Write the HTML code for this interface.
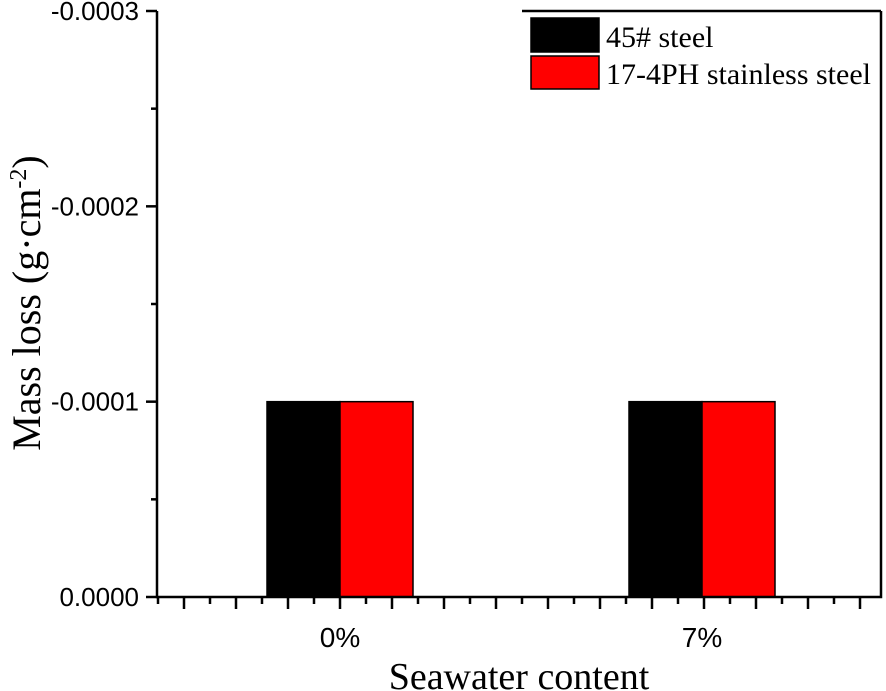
<!DOCTYPE html>
<html><head><meta charset="utf-8"><style>
html,body{margin:0;padding:0;background:#fff;width:886px;height:691px;overflow:hidden}
svg text{font-family:"Liberation Sans",sans-serif}
.serif{font-family:"Liberation Serif",serif}
</style></head><body>
<svg id="chart" width="886" height="691"></svg>
<script>
const categories = ["0%", "7%"];
const steel45 = [-0.0001, -0.0001];
const stainless174PH = [-0.0001, -0.0001];
const yTicks = [0, -0.0001, -0.0002, -0.0003];
const yTickLabels = ["0.0000", "-0.0001", "-0.0002", "-0.0003"];

const NS = "http://www.w3.org/2000/svg";
const svg = document.getElementById('chart');
const X0 = 157, X1 = 881, Y0 = 597, Y1 = 11;
function y(v){ return Y0 + (v / -0.0003) * (Y1 - Y0); }
function xc(i){ return 340 + i * 362; }
const barW = 73;
function mk(tag, attrs, parent){
  const e = document.createElementNS(NS, tag);
  for (const k in attrs) e.setAttribute(k, attrs[k]);
  (parent || svg).appendChild(e);
  return e;
}
categories.forEach((c, i) => {
  const b1 = mk('rect', {x: xc(i) - barW, y: Math.min(y(steel45[i]), Y0), width: barW, height: Math.abs(y(steel45[i]) - Y0), fill: '#000', stroke: '#000', 'stroke-width': 1.5});
  
  
  const b2 = mk('rect', {x: xc(i), y: Math.min(y(stainless174PH[i]), Y0), width: barW, height: Math.abs(y(stainless174PH[i]) - Y0), fill: '#ff0000', stroke: '#000', 'stroke-width': 1.5});
  
  
  const t = mk('text', {x: xc(i), y: 647, 'text-anchor': 'middle', 'font-size': 28});
  t.textContent = c;
  
  
});
const ax = mk('path', {d: `M${X0},${Y1}V${Y0}H${X1}V${Y1}M522,${Y1}H${X1}`, stroke: '#000', 'stroke-width': 2.5, fill: 'none'});


yTicks.forEach((v, i) => {
  mk('line', {x1: 146, x2: X0, y1: y(v), y2: y(v), stroke: '#000', 'stroke-width': 2.5});
  const t = mk('text', {x: 139, y: y(v) + 9, 'text-anchor': 'end', 'font-size': 26});
  t.textContent = yTickLabels[i];
  
  
  if (i < yTicks.length - 1) {
    const m = y(v - 0.00005);
    mk('line', {x1: 151, x2: X0, y1: m, y2: m, stroke: '#000', 'stroke-width': 2.5});
  }
});
for (let px = 158, k = 0; px <= X1 + 1; px += 26, k++) {
  const major = k % 2 === 1;
  mk('line', {x1: px, x2: px, y1: Y0, y2: Y0 + (major ? 12 : 7), stroke: '#000', 'stroke-width': 2.5});
}
mk('rect', {x: 531, y: 18, width: 68, height: 34, fill: '#000', stroke: '#000', 'stroke-width': 1.5});
mk('rect', {x: 531, y: 56, width: 68, height: 33, fill: '#ff0000', stroke: '#000', 'stroke-width': 1.5});
const l1 = mk('text', {x: 606, y: 47, 'font-size': 30, class: 'serif'});
l1.textContent = '45# steel';


const l2 = mk('text', {x: 606, y: 84, 'font-size': 30, class: 'serif'});
l2.textContent = '17-4PH stainless steel';


const xt = mk('text', {x: 519, y: 689, 'text-anchor': 'middle', 'font-size': 38, class: 'serif'});
xt.textContent = 'Seawater content';


const yt = mk('text', {x: 0, y: 0, 'text-anchor': 'middle', 'font-size': 40, class: 'serif', transform: 'translate(40,303) rotate(-90)'});
yt.innerHTML = 'Mass loss (g·cm<tspan dy="-14" font-size="24">-2</tspan><tspan dy="14">)</tspan>';


</script>
</body></html>
